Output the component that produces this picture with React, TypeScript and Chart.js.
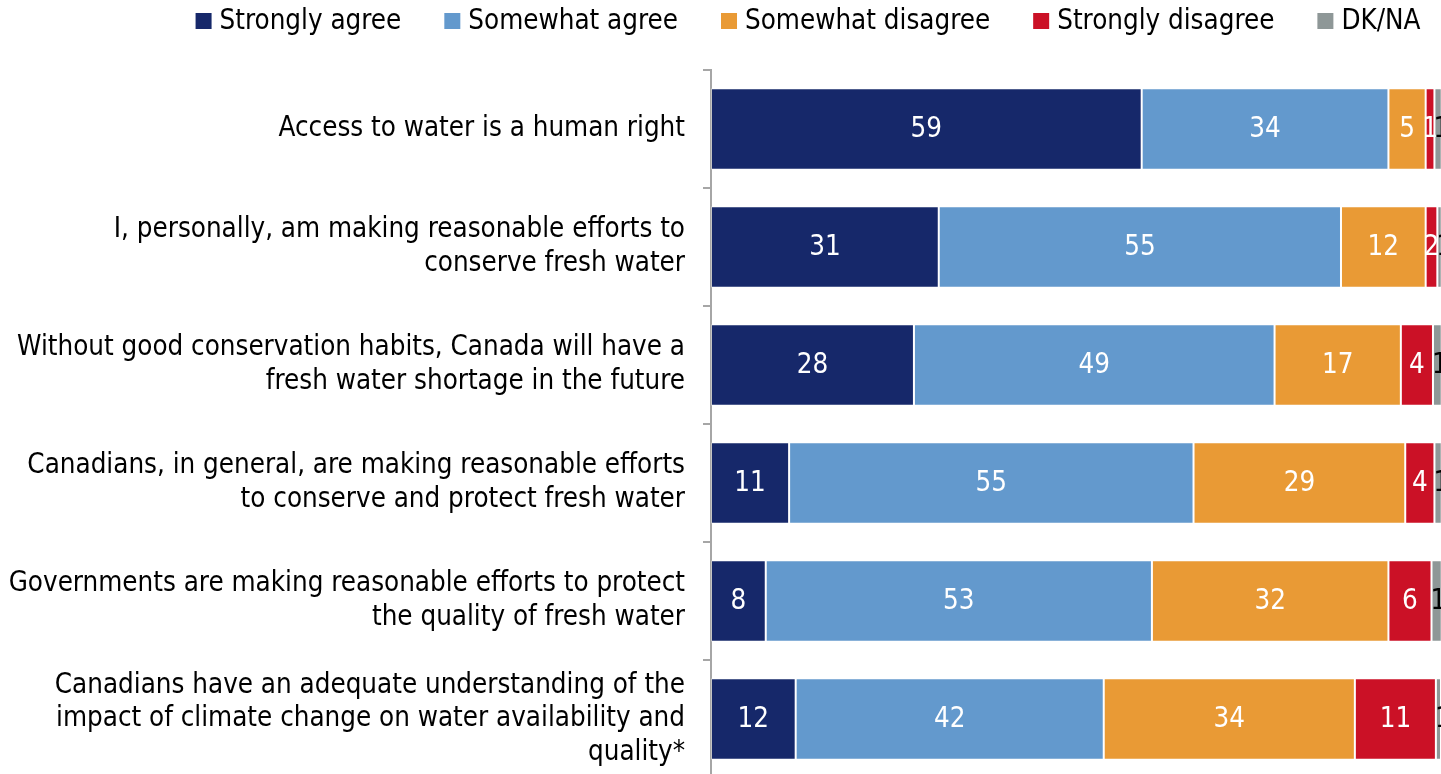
import React, { useEffect, useRef } from "react";
import { Chart, registerables } from "chart.js";

Chart.register(...registerables);

const categories: (string | string[])[] = [
  "Access to water is a human right",
  ["I, personally, am making reasonable efforts to", "conserve fresh water"],
  ["Without good conservation habits, Canada will have a", "fresh water shortage in the future"],
  ["Canadians, in general, are making reasonable efforts", "to conserve and protect fresh water"],
  ["Governments are making reasonable efforts to protect", "the quality of fresh water"],
  ["Canadians have an adequate understanding of the", "impact of climate change on water availability and", "quality*"],
];

const seriesNames = ["Strongly agree", "Somewhat agree", "Somewhat disagree", "Strongly disagree", "DK/NA"];

const stronglyAgree = [59.0, 31.2, 27.8, 10.7, 7.5, 11.6];
const somewhatAgree = [33.8, 55.1, 49.4, 55.4, 52.9, 42.2];
const somewhatDisagree = [5.1, 11.6, 17.3, 29.0, 32.4, 34.4];
const stronglyDisagree = [1.2, 1.6, 4.4, 4.0, 5.9, 11.1];
const dkNa = [1.0, 0.6, 1.2, 1.0, 1.4, 0.7];

const colors = ["#16286A", "#6399CD", "#E99A35", "#CB1126", "#8E9797"];
const labelColors = ["#FFFFFF", "#FFFFFF", "#FFFFFF", "#FFFFFF", "#000000"];

const FONT = "'DejaVu Sans Condensed', 'DejaVu Sans', sans-serif";
const FONT_SIZE = 27.5;

const valueLabelsPlugin = {
  id: "valueLabels",
  afterDatasetsDraw(chart: any) {
    const ctx = chart.ctx;
    ctx.save();
    ctx.font = `${FONT_SIZE}px ${FONT}`;
    ctx.textBaseline = "middle";
    chart.data.datasets.forEach((ds: any, di: number) => {
      const meta = chart.getDatasetMeta(di);
      meta.data.forEach((el: any, i: number) => {
        const v = ds.data[i];
        const txt = String(Math.round(v));
        ctx.fillStyle = labelColors[di];
        if (di === seriesNames.length - 1) {
          ctx.textAlign = "left";
          ctx.fillText(txt, el.base - 1, el.y + 1);
        } else {
          ctx.textAlign = "center";
          ctx.fillText(txt, (el.x + el.base) / 2, el.y + 1);
        }
      });
    });
    ctx.restore();
  },
};

const legendPlugin = {
  id: "customLegend",
  afterDraw(chart: any) {
    const ctx = chart.ctx;
    ctx.save();
    ctx.font = `${FONT_SIZE}px ${FONT}`;
    ctx.textBaseline = "middle";
    ctx.textAlign = "left";
    const box = 16;
    const gapBox = 8;
    const gapItem = 43;
    const widths = seriesNames.map((n) => ctx.measureText(n).width);
    const total =
      widths.reduce((a, w) => a + box + gapBox + w, 0) + gapItem * (seriesNames.length - 1);
    const center = 808;
    let x = center - total / 2;
    const yMid = 21;
    seriesNames.forEach((n, i) => {
      ctx.fillStyle = colors[i];
      ctx.fillRect(x, yMid - box / 2, box, box);
      ctx.fillStyle = "#000000";
      ctx.fillText(n, x + box + gapBox, yMid + 1);
      x += box + gapBox + widths[i] + gapItem;
    });
    ctx.restore();
  },
};

export default function App() {
  const ref = useRef<HTMLCanvasElement | null>(null);

  useEffect(() => {
    if (!ref.current) return;
    const series = [stronglyAgree, somewhatAgree, somewhatDisagree, stronglyDisagree, dkNa];
    const chart = new Chart(ref.current, {
      type: "bar",
      data: {
        labels: categories,
        datasets: series.map((d, i) => ({
          label: seriesNames[i],
          data: d,
          backgroundColor: colors[i],
          borderColor: "rgba(255,255,255,0.35)",
          borderWidth: 1,
          borderSkipped: false,
          barPercentage: 0.69,
          categoryPercentage: 1,
        })),
      },
      options: {
        indexAxis: "y",
        animation: false,
        responsive: false,
        devicePixelRatio: 1,
        layout: { padding: { top: 70, left: 0, right: 0, bottom: 0 } },
        plugins: {
          legend: { display: false },
          tooltip: { enabled: false },
        },
        scales: {
          x: {
            stacked: true,
            min: 0,
            max: 100,
            display: false,
          },
          y: {
            stacked: true,
            offset: true,
            grid: {
              offset: true,
              drawOnChartArea: false,
              drawTicks: true,
              tickLength: 8,
              color: "#A6A6A6",
              lineWidth: 2,
            },
            border: { display: true, color: "#A6A6A6", width: 2 },
            ticks: {
              autoSkip: false,
              padding: 18,
              color: "#000000",
              font: { family: FONT, size: FONT_SIZE, lineHeight: 1.22 },
            },
            afterFit(scale: any) {
              scale.width = 711;
              scale.paddingTop = 0;
              scale.paddingBottom = 0;
            },
          },
        },
      },
      plugins: [valueLabelsPlugin, legendPlugin],
    } as any);
    return () => chart.destroy();
  }, []);

  return (
    <div
      style={{
        position: "fixed",
        left: 0,
        top: 0,
        width: 1441,
        height: 774,
        overflow: "hidden",
        background: "#FFFFFF",
      }}
    >
      <canvas ref={ref} width={1441} height={778} style={{ display: "block" }} />
    </div>
  );
}
